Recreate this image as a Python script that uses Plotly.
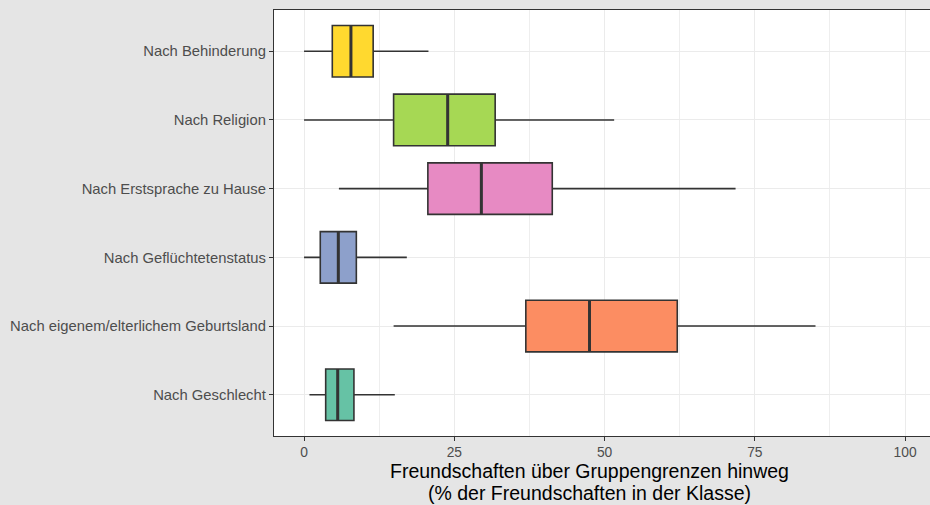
import plotly.graph_objects as go

categories = ["Nach Geschlecht", "Nach eigenem/elterlichem Geburtsland", "Nach Geflüchtetenstatus",
              "Nach Erstsprache zu Hause", "Nach Religion", "Nach Behinderung"]
lower = [0.9, 14.9, 0.0, 5.8, 0.0, 0.0]
q1 = [3.6, 36.9, 2.7, 20.6, 14.9, 4.7]
median = [5.6, 47.5, 5.7, 29.5, 23.9, 7.8]
q3 = [8.3, 62.1, 8.7, 41.3, 31.8, 11.5]
upper = [15.1, 85.1, 17.1, 71.8, 51.6, 20.7]
colors = ["#66C2A5", "#FC8D62", "#8DA0CB", "#E78AC3", "#A6D854", "#FFD92F"]
x_ticks = [0, 25, 50, 75, 100]
x_minor = [12.5, 37.5, 62.5, 87.5]
title_lines = ["Freundschaften über Gruppengrenzen hinweg", "(% der Freundschaften in der Klasse)"]

BOX_W = 0.75
fig = go.Figure()
for i, cat in enumerate(categories):
    fig.add_trace(go.Box(
        y=[i], q1=[q1[i]], median=[median[i]], q3=[q3[i]],
        lowerfence=[lower[i]], upperfence=[upper[i]],
        orientation="h", width=BOX_W, whiskerwidth=0,
        fillcolor=colors[i], line=dict(color="#333333", width=1.6),
        boxpoints=False, showlegend=False, hoverinfo="skip", name=cat,
    ))
    fig.add_trace(go.Scatter(
        x=[median[i], median[i]], y=[i - BOX_W / 2, i + BOX_W / 2],
        mode="lines", line=dict(color="#333333", width=3),
        showlegend=False, hoverinfo="skip",
    ))

title_y = [-0.0810, -0.1345]
fig.update_layout(
    width=930, height=505,
    margin=dict(l=274, r=0, t=10, b=69),
    paper_bgcolor="#E5E5E5", plot_bgcolor="white",
    font=dict(family="Liberation Sans, Arial, sans-serif", color="#4D4D4D", size=14),
    xaxis=dict(range=[-5, 104.15], tickvals=x_ticks, ticktext=[str(t) for t in x_ticks],
               showgrid=True, gridcolor="#EBEBEB", gridwidth=1.4,
               minor=dict(tickvals=x_minor, showgrid=True, gridcolor="#EEEEEE", gridwidth=1, ticks=""),
               showline=True, linecolor="#333333", linewidth=1.3, mirror=True,
               ticks="outside", ticklen=3.5, tickcolor="#333333", tickwidth=1.2,
               zeroline=False, tickfont=dict(size=13.8, color="#4D4D4D")),
    yaxis=dict(range=[-0.6, 5.6], tickvals=list(range(len(categories))), ticktext=categories,
               showgrid=True, gridcolor="#EBEBEB", gridwidth=1.4,
               showline=True, linecolor="#333333", linewidth=1.3,
               ticks="outside", ticklen=4, tickcolor="#333333", tickwidth=1.2,
               zeroline=False, tickfont=dict(size=14.8, color="#4D4D4D")),
    annotations=[dict(
        text=t, xref="paper", yref="paper", x=0.4817, y=ty, xanchor="center", yanchor="middle",
        showarrow=False, font=dict(size=19.5, color="black"), align="center", borderpad=0,
    ) for t, ty in zip(title_lines, title_y)],
)

fig.write_html(
    "out.html",
    config={"displayModeBar": False},
    post_script="document.body.style.margin='0';document.body.style.background='#E5E5E5';",
)
